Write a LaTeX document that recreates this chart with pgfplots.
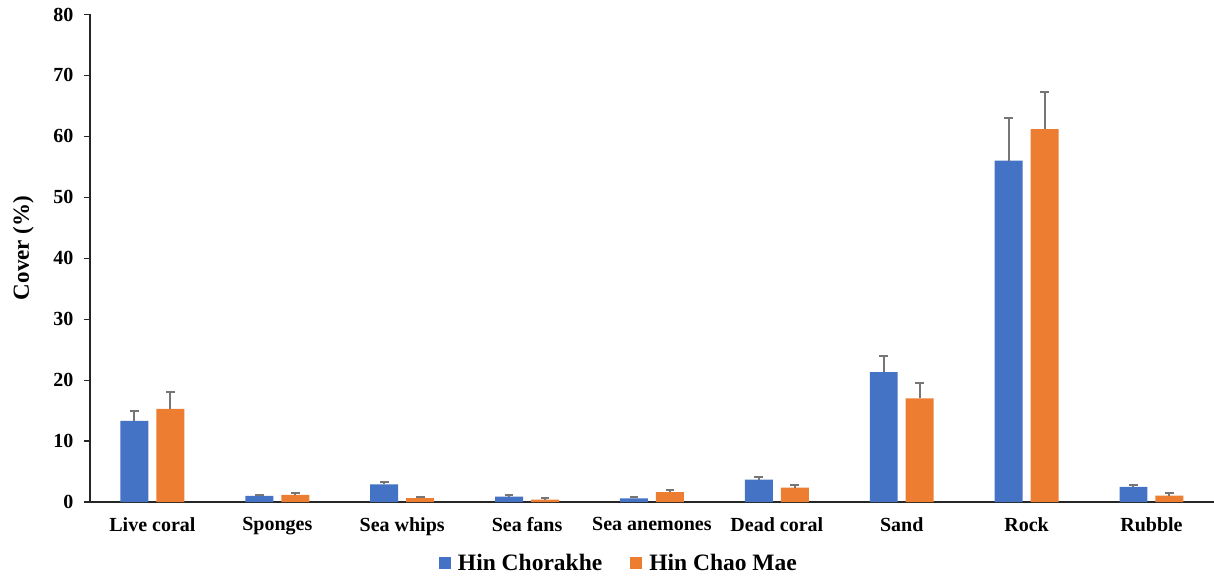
\documentclass[border=0pt]{standalone}
\usepackage{pgfplots}
\pgfplotsset{compat=1.18}
\usepackage{fontspec}
\setmainfont{Liberation Serif}
\definecolor{hcblue}{HTML}{4472C4}
\definecolor{hmorange}{HTML}{ED7D31}
\definecolor{errgray}{HTML}{767676}
\definecolor{axgray}{HTML}{262626}
\begin{document}
\begin{tikzpicture}
\path[use as bounding box] (-90pt,-74pt) rectangle (1124pt,502pt);
\begin{axis}[
  scale only axis,
  width=1124pt, height=487.5pt,
  xmin=-0.5, xmax=8.5,
  ymin=0, ymax=80,
  ytick={0,10,...,80},
  xtick={0,...,8},
  xticklabels={Live coral,Sponges,Sea whips,Sea fans,Sea anemones,Dead coral,Sand,Rock,Rubble},
  axis lines=left,
  axis line style={-, draw=axgray, line width=1.3pt},
  tick align=outside,
  major tick length=6pt,
  ytick style={draw=axgray, line width=1.2pt},
  xtick style={draw=none},
  /pgf/number format/assume math mode=true,
  ticklabel style={font=\bfseries\fontsize{20}{24}\selectfont},
  yticklabel style={xshift=-7pt},
  xticklabel style={yshift=-6pt},
  ylabel={Cover (\%)},
  ylabel style={font=\bfseries\fontsize{23}{27}\selectfont,
    at={(axis description cs:-0.0592,0.521)}, anchor=center},
  ybar,
  bar width=0.224,
  legend columns=2,
  legend style={draw=none, fill=none, at={(axis description cs:0.4706,-0.126)}, anchor=center,
    font=\bfseries\fontsize{23.5}{27}\selectfont,
    /tikz/every even column/.append style={column sep=26pt}},
  legend image code/.code={\fill[#1] (0pt,-6pt) rectangle (12pt,6pt); \path (17pt,0pt);},
  error bars/y dir=plus,
  error bars/y explicit,
  error bars/error bar style={draw=errgray, line width=2pt},
  error bars/error mark options={rotate=90, draw=errgray, line width=2pt, mark size=4.4pt},
]
% Hin Chorakhe: mean cover with standard error
\addplot[fill=hcblue, draw=none, bar shift=-0.144] coordinates {
  (0,13.3)  +- (0,1.7)
  (1,1.0)   +- (0,0.12)
  (2,2.9)   +- (0,0.4)
  (3,0.87)  +- (0,0.28)
  (4,0.6)   +- (0,0.15)
  (5,3.66)  +- (0,0.5)
  (6,21.3)  +- (0,2.7)
  (7,56.0)  +- (0,7.0)
  (8,2.5)   +- (0,0.35)
};
% Hin Chao Mae: mean cover with standard error
\addplot[fill=hmorange, draw=none, bar shift=0.144] coordinates {
  (0,15.3)  +- (0,2.8)
  (1,1.15)  +- (0,0.25)
  (2,0.65)  +- (0,0.1)
  (3,0.38)  +- (0,0.22)
  (4,1.64)  +- (0,0.26)
  (5,2.35)  +- (0,0.45)
  (6,17.0)  +- (0,2.6)
  (7,61.2)  +- (0,6.1)
  (8,1.03)  +- (0,0.45)
};
\legend{Hin Chorakhe, Hin Chao Mae}
\end{axis}
\end{tikzpicture}
\end{document}
